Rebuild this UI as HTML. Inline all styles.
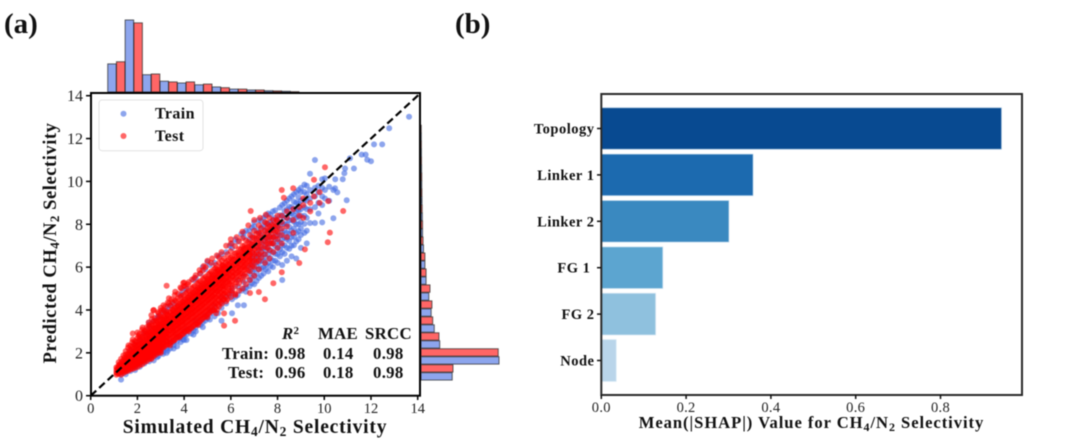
<!DOCTYPE html>
<html lang="en">
<head>
<meta charset="utf-8">
<title>CH4/N2 selectivity parity plot and SHAP importance</title>
<style>
html,body{margin:0;padding:0;background:#fff;width:1080px;height:447px;overflow:hidden}
svg{display:block;filter:blur(0.4px)}
text{font-family:"Liberation Serif",serif;fill:#111}
.b{font-weight:bold}
.tick{fill:#222}
.tickb{font-size:14.5px;fill:#222;letter-spacing:.3px}
.stat{font-size:16.8px;font-weight:bold;letter-spacing:.3px}
.axt{font-weight:bold}
</style>
</head>
<body>
<svg id="fig" xmlns="http://www.w3.org/2000/svg" width="1080" height="447" viewBox="0 0 1080 447">
<rect width="1080" height="447" fill="#fff"/>
<text class="b" x="4" y="33" font-size="29">(a)</text>
<text class="b" x="455" y="33" font-size="29">(b)</text>
<g id="topHist"></g>
<g id="rightHist"></g>
<g id="scatter"></g>
<line id="parity" stroke="#000" stroke-width="2.2" stroke-dasharray="7.5 4"/>
<rect x="91" y="93" width="329" height="302.7" fill="none" stroke="#000" stroke-width="2"/>
<g id="scatterTicks"></g>
<g>
  <rect x="99" y="100" width="104" height="50.7" rx="3" fill="#fff" fill-opacity=".85" stroke="#e2e2e2" stroke-width="1"/>
  <circle cx="123.5" cy="113.7" r="3" fill="#4169e1" fill-opacity=".6"/>
  <circle cx="123.5" cy="136" r="3" fill="#ff0000" fill-opacity=".6"/>
  <text class="b" x="155" y="118.5" font-size="16" letter-spacing=".4">Train</text>
  <text class="b" x="155" y="141" font-size="16" letter-spacing=".4">Test</text>
</g>
<g>
  <text class="stat" x="282" y="339" font-style="italic">R<tspan font-style="normal" font-size="11" dy="-5">2</tspan></text>
  <text class="stat" x="318" y="339">MAE</text>
  <text class="stat" x="365" y="339">SRCC</text>
  <text class="stat" x="222" y="359">Train:</text>
  <text class="stat" x="275" y="359">0.98</text>
  <text class="stat" x="323" y="359">0.14</text>
  <text class="stat" x="373" y="359">0.98</text>
  <text class="stat" x="228" y="378">Test:</text>
  <text class="stat" x="275" y="378">0.96</text>
  <text class="stat" x="323" y="378">0.18</text>
  <text class="stat" x="373" y="378">0.98</text>
</g>
<text class="axt" font-size="19.5" letter-spacing=".8" x="255" y="433" text-anchor="middle">Simulated CH<tspan font-size="13.5" dy="3">4</tspan><tspan dy="-3">/N</tspan><tspan font-size="13.5" dy="3">2</tspan><tspan dy="-3"> Selectivity</tspan></text>
<text class="axt" font-size="18.5" letter-spacing=".55" transform="translate(56,243) rotate(-90)" text-anchor="middle">Predicted CH<tspan font-size="13" dy="3">4</tspan><tspan dy="-3">/N</tspan><tspan font-size="13" dy="3">2</tspan><tspan dy="-3"> Selectivity</tspan></text>
<g id="shapBars"></g>
<rect x="601.3" y="94" width="420.7" height="301" fill="none" stroke="#2a2a2a" stroke-width="2"/>
<g id="shapTicks"></g>
<text class="b" font-size="16.6" letter-spacing=".95" x="811.5" y="428" text-anchor="middle">Mean(|SHAP|) Value for CH<tspan font-size="12" dy="3">4</tspan><tspan dy="-3">/N</tspan><tspan font-size="12" dy="3">2</tspan><tspan dy="-3"> Selectivity</tspan></text>
</svg>
<script>
const scatterTickValues = [0, 2, 4, 6, 8, 10, 12, 14];
const shapTickValues = [0.0, 0.2, 0.4, 0.6, 0.8];
const shapCategories = ["Topology", "Linker 1", "Linker 2", "FG 1\u00a0", "FG 2", "Node"];
const shapValues = [0.944, 0.358, 0.301, 0.145, 0.128, 0.035];
const shapColors = ["#084a91", "#1c6aaf", "#3a89c0", "#5ca5d0", "#8fc1de", "#b9d5ea"];
const histBinStart = 0.73;
const histBinWidth = 0.745;
const topHistTrain = [39, 100, 24, 15, 12.5, 10, 7, 4, 2.8, 1.8, 1];
const topHistTest = [42, 96, 25, 14, 14, 11, 6, 4, 2.8, 1.5, 0.4];
const rightHistTrain = [40, 100, 24, 17, 13, 10, 6.5, 5, 3.2, 2, 1.7, 1.3, 1, 0.8, 0.6, 0.4];
const rightHistTest = [41, 99, 23, 15, 14, 11.5, 6.5, 5, 2.6, 2, 1.5, 1.2, 1, 0.7, 0.5, 0.3];
/* each entry: simulated value, then the predicted values read at that simulated value */
const trainColumns = [
[1.3,.75,1.0],[1.5,1.0,1.15],[1.7,1.15,2.1],[1.9,1.2,1.35,2.4],[2.1,1.35,1.5,2.6],[2.3,1.5,1.62,2.9],[2.5,1.6,1.75,3.2,3.4],[2.7,1.65,1.85,3.5],
[2.9,1.85,2.0,3.7],[3.1,1.95,2.05,2.2,3.9],[3.25,2.0,2.2,3.95],[3.4,2.2,2.4,2.55,4.2],[3.55,2.2,2.35,2.5,4.3],[3.7,2.3,2.55,2.75],[3.85,2.5,2.7,4.7],[4.0,2.6,2.8,3.0],[4.1,2.6,2.85,3.1,5.0],[4.3,2.9,3.15],
[4.5,3.0,3.2,3.5,5.5],[4.7,3.3,3.55,5.7],[4.9,3.5,3.75,5.9],[5.1,3.55,3.8,4.0,6.1],[5.3,3.7,3.95,4.2,6.2],[5.6,3.5,4.1,4.35,4.6,6.6],[5.8,4.3,4.6,6.7],[6.05,3.85,4.5,4.8,5.0,6.9,7.1],[6.3,4.22,4.7,5.1,5.4,7.2],[6.56,4.22,5.0,5.3,5.6,7.4,7.6],
[6.8,5.1,5.4,5.7,6.0,7.3,7.7],[6.9,5.25,5.5,5.82,6.1,6.4,6.7,7.05,7.45,7.85],[7.0,5.2,5.6,5.9,6.2,6.5,7.9,8.1],[7.1,5.35,5.72,6.05,6.35,6.62,6.95,7.3,7.7],[7.2,5.5,5.9,6.2,6.5,6.8,7.6,8.2],[7.3,5.6,5.95,6.28,6.55,6.85,7.15,7.5,7.85,8.15],[7.4,5.7,6.0,6.3,6.6,6.9,7.2,7.9,8.3],[7.5,5.9,6.12,6.45,6.75,7.05,7.35,7.7,8.05,8.4],[7.6,5.8,6.2,6.6,6.9,7.3,7.6,8.0,8.5],[7.7,6.05,6.42,6.78,7.12,7.42,7.75,8.1,8.45],[7.8,6.0,6.3,6.7,7.1,7.4,7.8,8.2,8.6],[7.9,6.3,6.62,6.98,7.32,7.62,7.95,8.3,8.65],[8.0,6.2,6.6,6.9,7.2,7.5,7.9,8.2],[8.1,6.5,6.82,7.15,7.48,7.78,8.08,8.42,8.78],[8.2,5.4,6.1,6.7,7.0,7.3,7.6,8.0,8.4,8.9],[8.3,6.62,7.02,7.38,7.7,8.02,8.32,8.62,8.98],[8.4,6.3,6.9,7.3,7.6,8.0,8.3,8.7,9.1],[8.5,6.85,7.22,7.55,7.88,8.18,8.5,8.82,9.2],[8.6,6.5,7.0,7.4,7.7,8.2,8.5,8.8,9.3],[8.7,7.02,7.42,7.8,8.12,8.42,8.72,9.05,9.4],[8.8,6.4,7.2,7.6,8.0,8.3,8.6,9.0,9.5],[8.9,7.3,7.68,8.0,8.35,8.65,8.95,9.25,9.6],[9.0,6.9,7.5,7.8,8.1,8.4,8.7,9.1,9.5,9.7],[9.15,7.6,8.02,8.4,8.8,9.15,9.5,9.85],[9.25,7.11,7.7,8.3,8.7,9.1,9.4,9.8],[9.39,8.06,8.7,9.2,9.6,10.36],[9.6,8.06,8.8,9.3,9.7,11.0],[9.75,8.5,9.0,9.5,9.8],[9.91,8.09,8.9,9.3,9.7,10.1],[10.03,9.2,9.6,10.14],[10.21,9.1,9.75],[10.39,8.28,9.6],[10.46,9.68],[10.47,10.1],[10.56,9.49],[10.79,10.1],[10.86,10.38],[10.89,10.6],[10.96,9.12],[11.1,11.08],[11.27,10.6],[11.6,11.25],[11.77,11.25],[11.84,11.01],[12.0,10.94],[12.13,11.73],[12.48,11.73],[12.78,12.48],[13.63,13.02],
[5.0,6.25,3.6],[5.45,6.5,3.85],[5.95,7.0,4.7],[6.2,7.3,4.62],[6.45,7.55,4.9],[6.65,7.7,5.05,4.85],[4.8,6.0,3.42,3.2],[4.4,5.4,3.05,2.85],[3.95,4.9,2.62],[3.3,4.15,2.1],[2.85,3.65,1.8]
];
const testColumns = [
[1.1,.98,1.08,1.2,1.32],[1.2,1.02,1.12,1.26,1.42,1.56],[1.3,.98,1.16,1.3,1.46,1.72],[1.4,1.06,1.22,1.36,1.5,1.66,1.88],[1.5,1.12,1.26,1.42,1.56,1.72,1.92,2.08],[1.6,1.16,1.32,1.46,1.62,1.78,1.96,2.24],[1.7,1.22,1.36,1.52,1.66,1.82,2.02,2.32],[1.8,1.26,1.42,1.56,1.72,1.88,2.06,2.28,2.62,2.9],[1.9,1.3,1.46,1.62,1.78,1.94,2.12,2.34,2.56],[2.0,1.34,1.52,1.68,1.84,2.0,2.18,2.38,2.68,2.95],[2.1,1.42,1.58,1.74,1.9,2.06,2.24,2.44,2.72],[2.2,1.46,1.64,1.8,1.96,2.14,2.32,2.5,2.76,3.08],[2.3,1.56,1.72,1.88,2.04,2.22,2.4,2.58,2.82,3.02],[2.4,1.62,1.78,1.94,2.12,2.3,2.48,2.66,2.9,3.2],[2.5,1.7,1.86,2.02,2.2,2.38,2.56,2.74,2.98,3.3],[2.6,1.78,1.94,2.1,2.28,2.46,2.64,2.82,3.06,3.34,3.76],[2.7,1.84,2.0,2.18,2.36,2.54,2.72,2.9,3.14,3.46,4.0],[2.8,1.92,2.08,2.26,2.44,2.62,2.8,2.98,3.2,3.5],[2.9,2.0,2.16,2.34,2.52,2.7,2.88,3.06,3.28,3.58,3.84],[3.0,2.08,2.24,2.42,2.6,2.78,2.96,3.14,3.36,3.66,4.1],[3.1,2.3,2.5,2.68,2.86,3.04,3.22,3.44,3.72,4.0],[3.2,2.36,2.56,2.76,2.94,3.12,3.3,3.52,3.8,4.16],[3.25,2.5,2.7,3.0,3.3,3.6,3.9,5.13],[3.35,2.42,2.64,2.84,3.04,3.24,3.44,3.66,3.92,4.3,4.55],[3.5,2.52,2.74,2.94,3.14,3.34,3.54,3.76,4.02,4.36],[3.6,2.6,2.84,3.04,3.24,3.44,3.64,3.86,4.1,4.44,4.7],[3.72,2.72,2.92,3.12,3.34,3.54,3.74,3.96,4.2,4.52],[3.84,2.8,3.02,3.22,3.44,3.64,3.84,4.06,4.3,4.6,5.05],[3.96,2.88,3.1,3.32,3.54,3.74,3.94,4.16,4.4,4.7,5.26],[4.08,3.0,3.2,3.42,3.64,3.84,4.04,4.26,4.5,4.8,5.1],[4.2,3.1,3.3,3.52,3.74,3.94,4.14,4.36,4.6,4.9,5.3],[4.32,3.16,3.4,3.62,3.84,4.04,4.26,4.48,4.72,5.0],[4.44,3.28,3.5,3.72,3.94,4.14,4.36,4.58,4.82,5.12,5.5],[4.56,3.36,3.6,3.82,4.04,4.26,4.48,4.7,4.94,5.24],[4.68,3.46,3.7,3.92,4.14,4.36,4.58,4.8,5.04,5.34,5.7],[4.8,3.6,3.8,4.02,4.26,4.48,4.7,4.92,5.16,5.44,5.85],[4.92,3.68,3.92,4.14,4.36,4.58,4.8,5.02,5.26,5.56,6.0],[5.04,3.82,4.02,4.26,4.48,4.7,4.92,5.14,5.38,5.66],[5.16,3.94,4.14,4.38,4.6,4.82,5.04,5.26,5.5,5.8,6.2],[5.28,4.0,4.26,4.5,4.72,4.94,5.16,5.38,5.62,5.9],[5.37,3.85,4.3,4.6,4.9,5.2,5.5,5.8,6.1],[5.5,4.16,4.44,4.7,4.96,5.18,5.4,5.64,5.88,6.2,6.45],[5.62,4.3,4.58,4.84,5.08,5.32,5.56,5.8,6.04,6.3],[5.71,3.27,3.84,4.5,4.8,5.1,5.4,5.7,6.0,6.4],[5.85,4.5,4.78,5.04,5.3,5.54,5.78,6.02,6.3,6.6],[6.0,4.6,4.9,5.2,5.46,5.7,5.94,6.18,6.44,6.74],[6.18,3.5,4.75,5.1,5.4,5.66,5.9,6.14,6.38,6.64,6.98],[6.35,4.9,5.24,5.56,5.82,6.06,6.3,6.54,6.84,7.2],[6.5,5.0,5.4,5.7,5.98,6.24,6.48,6.74,7.0,7.36],[6.65,5.2,5.56,5.9,6.16,6.4,6.66,6.92,7.24],[6.82,4.79,5.4,5.8,6.1,6.36,6.6,6.84,7.1,7.5],[6.85,8.62],[7.0,5.6,6.0,6.3,6.6,6.84,7.1,7.36,7.7],[7.2,4.84,5.9,6.3,6.6,6.9,7.12,7.36,7.6,7.95],[7.46,4.5,6.2,6.6,6.95,7.2,7.44,7.7,8.1],[7.65,6.4,6.8,7.1,7.4,7.66,7.9,8.3],[7.82,5.25,6.7,7.1,7.4,7.7,7.95,8.2],[8.0,6.9,7.3,7.65,7.9,8.15,8.4],[8.18,5.76,7.1,7.5,7.8,8.1,8.4,9.6],[8.27,9.24],[8.4,7.4,7.9,8.3,8.6],[8.67,7.6,8.2,8.7,9.68],[8.93,6.19,8.4,8.8],[9.1,8.3,8.9,9.2],[9.17,6.83],[9.4,8.6,9.0],[9.56,9.3,10.08],[9.8,9.0,9.5],[10.03,10.66],[10.15,7.16],[10.17,9.08],[10.24,7.61],[10.81,8.62],
[1.15,1.04,1.17,1.3],[1.25,1.08,1.2,1.36,1.48],[1.35,1.12,1.27,1.41,1.6],[1.45,1.16,1.3,1.45,1.6,1.78],[1.55,1.2,1.36,1.5,1.67,1.83],[1.65,1.27,1.42,1.57,1.72,1.9,2.1],[1.75,1.3,1.47,1.63,1.79,1.96,2.17],[1.85,1.37,1.52,1.68,1.84,2.01,2.2,2.42],[1.95,1.43,1.6,1.76,1.92,2.08,2.27,2.5],[2.05,1.5,1.66,1.82,1.98,2.15,2.33,2.55,2.8],[2.15,1.58,1.73,1.89,2.06,2.23,2.41,2.62],[2.25,1.63,1.79,1.96,2.13,2.3,2.49,2.69,2.95],[2.35,1.7,1.87,2.03,2.21,2.38,2.56,2.77,3.0],[2.45,1.77,1.94,2.1,2.28,2.45,2.64,2.86,3.12],[2.55,1.84,2.01,2.18,2.36,2.53,2.72,2.93,3.2],[2.65,1.9,2.07,2.25,2.43,2.61,2.8,3.02,3.27],[2.75,1.98,2.15,2.33,2.51,2.69,2.88,3.1,3.35,3.62],[2.85,2.05,2.22,2.4,2.58,2.77,2.96,3.18,3.44],[2.95,2.13,2.3,2.48,2.66,2.85,3.04,3.25,3.5,3.75],[3.05,2.2,2.37,2.56,2.74,2.93,3.12,3.33,3.58],[3.15,2.28,2.45,2.63,2.82,3.0,3.2,3.42,3.66,3.95],[3.28,2.38,2.55,2.74,2.93,3.12,3.32,3.53,3.78],[3.42,2.48,2.66,2.85,3.05,3.24,3.44,3.66,3.9,4.2],[3.55,2.58,2.78,2.98,3.17,3.37,3.57,3.78,4.02],[3.66,2.7,2.88,3.08,3.28,3.48,3.68,3.9,4.15,4.42],[3.78,2.78,2.98,3.18,3.38,3.58,3.78,4.0,4.26],[3.9,2.86,3.06,3.28,3.48,3.68,3.9,4.12,4.36,4.64],[4.02,2.98,3.16,3.38,3.58,3.8,4.0,4.22,4.46],[4.14,3.06,3.26,3.48,3.68,3.9,4.12,4.32,4.56,4.84],[4.26,3.14,3.36,3.58,3.8,4.0,4.22,4.44,4.68],[4.38,3.24,3.46,3.68,3.9,4.1,4.32,4.54,4.78,5.06],[4.5,3.34,3.56,3.78,4.0,4.22,4.44,4.66,4.9],[4.62,3.42,3.66,3.88,4.1,4.32,4.54,4.76,5.0,5.28],[4.74,3.54,3.76,3.98,4.2,4.42,4.64,4.86,5.1],[4.86,3.66,3.86,4.08,4.32,4.54,4.76,4.98,5.22,5.5],[4.98,3.76,3.98,4.2,4.44,4.66,4.88,5.1,5.32],[5.1,3.88,4.08,4.32,4.54,4.76,5.0,5.2,5.44,5.72],[5.22,3.98,4.2,4.44,4.66,4.88,5.1,5.32,5.56],[5.34,4.1,4.34,4.56,4.78,5.0,5.22,5.44,5.68,5.96],[5.45,4.24,4.46,4.68,4.9,5.12,5.34,5.56,5.8],[5.56,4.36,4.6,4.82,5.04,5.26,5.48,5.7,5.94],[5.68,4.5,4.72,4.94,5.16,5.38,5.6,5.82,6.08],[5.78,4.62,4.84,5.06,5.28,5.5,5.72,5.94,6.2],[5.92,4.76,5.0,5.22,5.44,5.66,5.88,6.1,6.36],[6.06,4.9,5.14,5.36,5.58,5.8,6.02,6.24,6.5],[6.24,5.3,5.52,5.74,5.96,6.18,6.4,6.66],[6.42,5.48,5.7,5.92,6.14,6.36,6.58,6.82],[6.58,5.66,5.88,6.1,6.32,6.54,6.76,7.0],[6.74,5.84,6.06,6.28,6.5,6.72,6.94,7.18],[6.92,6.04,6.26,6.48,6.7,6.92,7.14,7.38],[7.1,6.24,6.46,6.68,6.9,7.12,7.34,7.56],[7.3,6.44,6.7,6.92,7.14,7.36,7.58,7.8],[7.55,6.9,7.15,7.38,7.6,7.82,8.05],[7.75,7.1,7.32,7.54,7.76,7.98],[7.95,7.45,7.7,7.95,8.2],
[1.62,2.35],[1.78,2.5],[2.08,2.88],[2.22,3.18],[2.48,3.42],[2.62,3.58],[2.68,3.98],[2.88,3.9],[3.02,3.98],[3.12,4.22],[3.3,4.35],[3.46,4.5],[3.62,4.85],[3.74,4.76],[3.88,5.0],[4.0,5.28,5.12],[4.16,5.2],[4.34,5.42],[4.5,5.62],[4.66,5.86],[4.84,6.05],[5.0,6.3],[5.2,6.4],[5.4,6.55],[5.6,6.7],[5.8,7.0],[6.0,7.1,7.3],[6.25,7.4],[6.5,7.65],[6.75,7.95],[7.0,8.2],[7.25,8.3],[7.5,8.45],
[2.6,1.72],[3.0,2.0],[3.4,2.35],[3.8,2.72],[4.2,3.0],[4.6,3.3],[5.0,3.66],[5.4,4.0],[5.8,4.4],[6.2,4.7],
[2.52,2.1,2.27,2.44,2.6,2.78,2.95],[2.72,2.3,2.46,2.63,2.8,2.97,3.15],[2.92,2.5,2.66,2.83,3.0,3.17,3.34],[3.12,2.68,2.85,3.02,3.2,3.37,3.55],[3.32,2.86,3.04,3.22,3.4,3.58,3.76],[3.52,3.05,3.24,3.42,3.6,3.78,3.96],[3.74,3.26,3.44,3.62,3.8,3.98,4.18],[3.94,3.44,3.63,3.82,4.0,4.2,4.38],[4.16,3.66,3.85,4.04,4.22,4.42,4.6],[4.36,3.84,4.04,4.24,4.42,4.62,4.82],[4.58,4.06,4.26,4.46,4.66,4.84,5.04],[4.78,4.26,4.46,4.66,4.86,5.04,5.24],[5.0,4.46,4.66,4.86,5.06,5.26,5.46],[5.2,4.66,4.86,5.06,5.26,5.46,5.66],[5.42,4.88,5.08,5.28,5.48,5.68,5.88],[5.64,5.1,5.3,5.5,5.7,5.9,6.1],[5.86,5.3,5.52,5.72,5.92,6.12],[6.1,5.56,5.76,5.96,6.16,6.36],[6.32,5.76,5.98,6.18,6.38,6.6],[6.56,6.0,6.22,6.44,6.64,6.86],[6.8,6.28,6.5,6.72,6.92]
];

const SVGNS = "http://www.w3.org/2000/svg";
const xLimit = 14;
const xScale = v => 90.7 + v * (327 / xLimit);
const yScale = v => 395.7 - v * (300 / xLimit);
const topHistScale = v => v * 0.72;
const rightHistScale = v => v * 0.78;
const shapX = v => 601.3 + v * 424;
const shapY = i => 128.5 + i * 46.4;

function make(tag, attrs, parent) {
  const el = document.createElementNS(SVGNS, tag);
  for (const k in attrs) el.setAttribute(k, attrs[k]);
  parent.appendChild(el);
  return el;
}

/* marginal histograms */
const topG = document.getElementById("topHist");
const rightG = document.getElementById("rightHist");
const histStyle = {"stroke": "#222", "stroke-opacity": ".7", "stroke-width": "1"};
topHistTrain.forEach(function (v, i) {
  const a = histBinStart + histBinWidth * i;
  const b = make("rect", Object.assign({x: xScale(a), y: 92 - topHistScale(v), width: xScale(a + histBinWidth * .49) - xScale(a), height: topHistScale(v), fill: "#4169e1", "fill-opacity": ".6"}, histStyle), topG);
  
  
});
topHistTest.forEach(function (v, i) {
  const a = histBinStart + histBinWidth * (i + .5);
  const b = make("rect", Object.assign({x: xScale(a), y: 92 - topHistScale(v), width: xScale(a + histBinWidth * .49) - xScale(a), height: topHistScale(v), fill: "#ff0000", "fill-opacity": ".6"}, histStyle), topG);
  
  
});
rightHistTrain.forEach(function (v, i) {
  const a = histBinStart + histBinWidth * i;
  const b = make("rect", Object.assign({x: 421, y: yScale(a + histBinWidth * .46), width: rightHistScale(v), height: yScale(a) - yScale(a + histBinWidth * .46), fill: "#4169e1", "fill-opacity": ".6"}, histStyle), rightG);
  
  
});
rightHistTest.forEach(function (v, i) {
  const a = histBinStart + histBinWidth * (i + .5);
  const b = make("rect", Object.assign({x: 421, y: yScale(a + histBinWidth * .46), width: rightHistScale(v), height: yScale(a) - yScale(a + histBinWidth * .46), fill: "#ff0000", "fill-opacity": ".6"}, histStyle), rightG);
  
  
});

/* scatter */
const scatterG = document.getElementById("scatter");
trainColumns.forEach(function (col) {
  col.slice(1).forEach(function (p) {
    const c = make("circle", {cx: xScale(col[0]), cy: yScale(p), r: 3, fill: "#4169e1", "fill-opacity": ".6"}, scatterG);
    
    
  });
});
testColumns.forEach(function (col) {
  col.slice(1).forEach(function (p) {
    const c = make("circle", {cx: xScale(col[0]), cy: yScale(p), r: 3, fill: "#ff0000", "fill-opacity": ".6"}, scatterG);
    
    
  });
});
const parity = document.getElementById("parity");
parity.setAttribute("x1", xScale(0));
parity.setAttribute("y1", yScale(0));
parity.setAttribute("x2", xScale(14.1));
parity.setAttribute("y2", yScale(14.1));

/* scatter ticks */
const stG = document.getElementById("scatterTicks");
scatterTickValues.forEach(function (v) {
  const xt = make("line", {x1: xScale(v), x2: xScale(v), y1: 395.7, y2: 400, stroke: "#000", "stroke-width": "1.5"}, stG);
  
  
  const xl = make("text", {x: xScale(v), y: 413, "text-anchor": "middle", "class": "tick", "font-size": "14.5"}, stG);
  xl.textContent = v;
  
  
  const yt = make("line", {x1: 86, x2: 90.7, y1: yScale(v), y2: yScale(v), stroke: "#000", "stroke-width": "1.5"}, stG);
  
  
  const yl = make("text", {x: 83, y: yScale(v) + 5.5, "text-anchor": "end", "class": "tick", "font-size": "16"}, stG);
  yl.textContent = v;
  
  
});

/* SHAP bars */
const sbG = document.getElementById("shapBars");
const stG2 = document.getElementById("shapTicks");
shapValues.forEach(function (v, i) {
  const r = make("rect", {x: shapX(0), y: shapY(i) - 20.8, width: shapX(v) - shapX(0), height: 41.6, fill: shapColors[i], stroke: "#cfe2f2", "stroke-opacity": ".6", "stroke-width": "1"}, sbG);
  
  
  const t = make("line", {x1: 597, x2: 601, y1: shapY(i), y2: shapY(i), stroke: "#111", "stroke-width": "1.5"}, stG2);
  
  
  const l = make("text", {x: 594.5, y: shapY(i) + 5, "text-anchor": "end", "class": "b", "font-size": "14.5", "letter-spacing": ".5"}, stG2);
  l.textContent = shapCategories[i];
  
  
});
shapTickValues.forEach(function (v) {
  const t = make("line", {x1: shapX(v), x2: shapX(v), y1: 395, y2: 399, stroke: "#111", "stroke-width": "1.5"}, stG2);
  
  
  const l = make("text", {x: shapX(v), y: 412, "text-anchor": "middle", "class": "tickb"}, stG2);
  l.textContent = v.toFixed(1);
  
  
});
</script>
</body>
</html>
